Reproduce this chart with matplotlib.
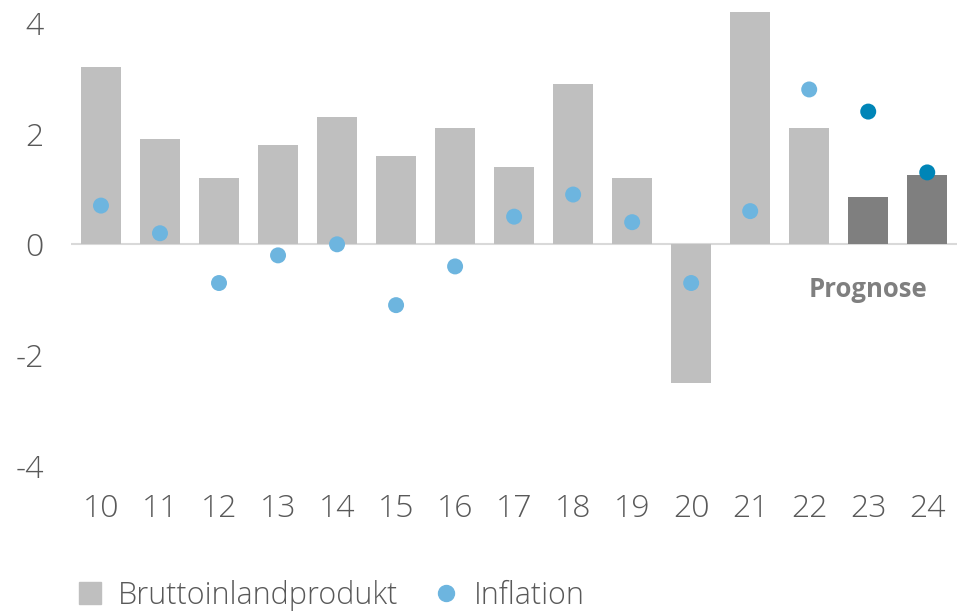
import numpy as np
import matplotlib
matplotlib.use("Agg")
import matplotlib.pyplot as plt
from matplotlib.lines import Line2D

plt.rcParams['font.family'] = ['Open Sans', 'DejaVu Sans']
plt.rcParams['font.weight'] = 'light'

# Jahre (Kurzform) und Werte in %
years = ['10', '11', '12', '13', '14', '15', '16', '17', '18', '19', '20', '21', '22', '23', '24']
gdp = [3.2, 1.9, 1.2, 1.8, 2.3, 1.6, 2.1, 1.4, 2.9, 1.2, -2.5, 4.2, 2.1, 0.86, 1.25]
inflation = [0.7, 0.2, -0.7, -0.2, 0.0, -1.1, -0.4, 0.5, 0.9, 0.4, -0.7, 0.6, 2.8, 2.4, 1.3]
forecast = [False] * 13 + [True] * 2

text_col = '#595959'
bar_col, bar_fc_col = '#BFBFBF', '#7F7F7F'
dot_col, dot_fc_col = '#6DB5DF', '#0085B7'

fig = plt.figure(figsize=(9.58, 6.11), dpi=100)
ax = fig.add_axes([0.0746, 0.2381, 0.9241, 0.7422])

x = np.arange(len(years))
bar_colors = [bar_fc_col if f else bar_col for f in forecast]
dot_colors = [dot_fc_col if f else dot_col for f in forecast]

ax.axhline(0, color='#D9D9D9', lw=1.5, zorder=1)
ax.bar(x, gdp, width=0.67, color=bar_colors, zorder=2)
ax.scatter(x, inflation, s=11.5**2, c=dot_colors, linewidths=0, zorder=3)

ax.text(13, -0.95, 'Prognose', ha='center', va='baseline', fontsize=18.5,
        fontweight='bold', color='#7F7F7F')

ax.set_xlim(-0.5, len(years) - 0.5)
ax.set_ylim(-4, 4.2)
ax.set_xticks(x)
ax.set_xticklabels(years)
ax.set_yticks([-4, -2, 0, 2, 4])
ax.set_yticklabels(['-4', '-2', '0', '2', '4'])
ax.tick_params(axis='x', length=0, pad=19.5, labelsize=23, labelcolor=text_col)
ax.tick_params(axis='y', length=0, pad=20, labelsize=23, labelcolor=text_col)
for s in ax.spines.values():
    s.set_visible(False)

handles = [
    Line2D([], [], marker='s', ms=16.5, color=bar_col, linestyle='none'),
    Line2D([], [], marker='o', ms=11.5, color=dot_col, linestyle='none'),
]
leg = fig.legend(handles, ['Bruttoinlandprodukt', 'Inflation'], loc='center left',
                 bbox_to_anchor=(0.078, 0.0246), ncol=2, frameon=False,
                 fontsize=22, handlelength=1.0, handletextpad=0.4,
                 columnspacing=1.09, borderpad=0, borderaxespad=0)
for t in leg.get_texts():
    t.set_color(text_col)

fig.savefig('out.png', dpi=100)
